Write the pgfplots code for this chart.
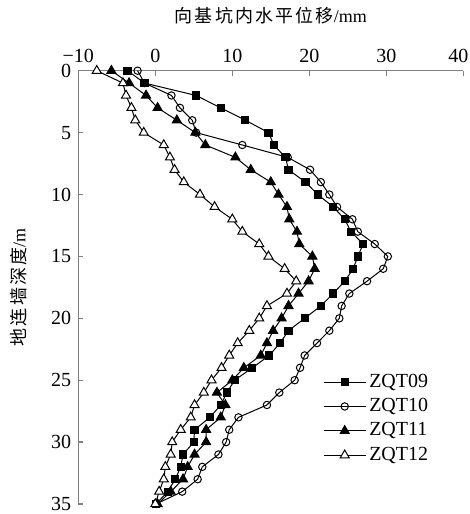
\documentclass[border=0pt]{standalone}
\usepackage{pgfplots}
\pgfplotsset{compat=1.18}
\usepackage{pgfplotstable}
\usepackage{fontspec}
\setmainfont{Liberation Serif}
\newfontfamily\cjk[LetterSpace=12]{Noto Sans CJK SC}
\definecolor{axgray}{RGB}{128,128,128}

\pgfplotstableread{
d a b c e
0 -3.6 -2.3 -5.7 -7.6
1 -1.4 -1.4 -3.4 -4.2
2 5.3 2.1 -1.2 -3.8
3 8.5 3.2 0.3 -3.1
4 11.7 4.8 2.8 -2.6
5 14.7 5.3 5.2 -1.5
6 15.4 11.3 6.5 1.1
7 16.9 17.2 10.4 1.9
8 17.3 20.1 12.4 2.5
9 19.5 21.5 15.0 3.7
10 21.1 22.6 16.0 5.8
11 23.1 23.6 17.1 7.7
12 24.6 25.6 17.4 10.0
13 25.4 26.3 18.4 11.3
14 27.0 28.5 18.7 13.5
15 26.3 30.2 20.4 14.7
16 25.7 29.6 20.7 16.8
17 24.6 27.5 19.9 18.3
18 23.1 25.2 18.6 17.1
19 21.5 24.2 17.3 14.5
20 19.4 23.9 16.4 13.5
21 17.3 22.6 15.3 12.2
22 16.2 21.0 14.5 10.7
23 14.8 19.4 13.7 9.6
24 12.6 18.8 11.5 8.6
25 10.3 18.1 10.0 7.3
26 9.3 16.1 8.0 6.3
27 8.5 14.5 9.1 5.1
28 7.1 10.8 8.5 4.6
29 5.1 9.6 6.6 3.3
30 5.0 9.2 6.6 2.2
31 3.6 8.2 5.1 2.0
32 3.3 6.1 4.2 1.3
33 2.6 5.5 3.6 1.1
34 1.6 3.5 2.0 0.5
35 0.1 0.1 0.3 0.0
}\data

\begin{document}
\begin{tikzpicture}
\begin{axis}[
  name=ax,
  scale only axis,
  width=192.5pt, height=216.65pt,
  xmin=-10, xmax=40, ymin=0, ymax=35,
  y dir=reverse,
  axis x line*=top,
  axis y line*=left,
  axis line style={axgray, line width=0.7pt},
  tick style={axgray, line width=0.7pt},
  tick align=inside,
  major tick length=2.4pt,
  xtick={-10,0,10,20,30,40},
  xticklabels={−10,0,10,20,30,\hspace*{-5pt}40},
  ytick={0,5,10,15,20,25,30,35},
  yticklabels={\raisebox{-1.2pt}{0},5,10,15,20,25,30,35},
  ticklabel style={font=\fontsize{10}{12}\selectfont},
  yticklabel style={inner ysep=1pt},
  xticklabel style={yshift=0.5pt, inner ysep=1.5pt, yshift=1.8pt},
  every axis plot/.append style={black, line width=0.5pt},
  legend style={draw=none, fill=none, at={(axis description cs:0.62,0.197)}, anchor=west,
    font=\fontsize{10}{12}\selectfont, row sep=0pt,
    nodes={text height=7pt, text depth=2pt, inner sep=1.6pt}},
  legend cell align=left,
  legend image code/.code={\draw[mark repeat=2,mark phase=2] plot coordinates {(0cm,0cm) (0.366cm,0cm) (0.732cm,0cm)};},
]
\addplot[mark=square*, mark size=1.8pt, mark options={fill=black, solid}] table[x=a, y=d] {\data};
\addlegendentry{ZQT09}
\addplot[mark=o, mark size=1.85pt, mark options={fill=white, solid}] table[x=b, y=d] {\data};
\addlegendentry{ZQT10}
\addplot[mark=triangle*, mark size=2.6pt, mark options={fill=black, solid}] table[x=c, y=d] {\data};
\addlegendentry{ZQT11}
\addplot[mark=triangle*, mark size=2.6pt, mark options={fill=white, solid}] table[x=e, y=d] {\data};
\addlegendentry{ZQT12}
\end{axis}
\node[font=\fontsize{9}{11}\selectfont] at ([yshift=27.4pt]ax.north) {{\cjk 向基坑内水平位移}/mm};
\node[font=\fontsize{9}{11}\selectfont, rotate=90] at ([xshift=-29.9pt]ax.west) {{\cjk 地连墙深度}/m};
\pgfresetboundingbox
\path ([xshift=-39.15pt,yshift=-5pt]ax.south west) rectangle ([xshift=3.35pt,yshift=35.35pt]ax.north east);
\end{tikzpicture}
\end{document}
